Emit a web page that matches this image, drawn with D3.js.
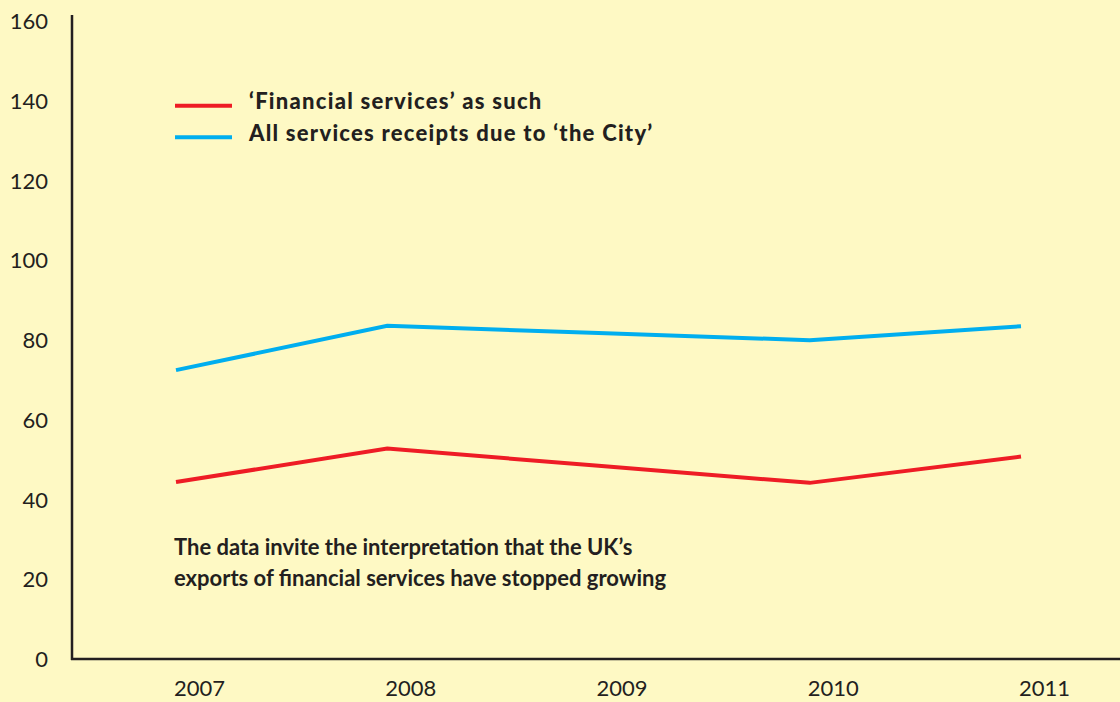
<!DOCTYPE html>
<html>
<head>
<meta charset="utf-8">
<script src="https://cdn.jsdelivr.net/npm/d3@7"></script>
<style>
  html, body { margin: 0; padding: 0; background: #fef9c4; overflow: hidden; }
  svg { display: block; }
</style>
</head>
<body>
<div id="chart"></div>
<script>
const ink  = '#231f20';
const red  = '#ee1c25';
const blue = '#00aeef';
const bg   = '#fef9c4';

const years     = ['2007', '2008', '2009', '2010', '2011'];
const financial = [44.4, 52.8, 48.5, 44.2, 50.8];
const cityAll   = [72.5, 83.6, 81.8, 80.0, 83.5];
const yTicks    = [0, 20, 40, 60, 80, 100, 120, 140, 160];
const seriesNames = ['\u2018Financial services\u2019 as such', 'All services receipts due to \u2018the City\u2019'];
const note = ['The data invite the interpretation that the UK\u2019s',
              'exports of financial services have stopped growing'];

const W = 1120, H = 702;
const svg = d3.select('#chart').append('svg').attr('width', W).attr('height', H);
svg.append('rect').attr('width', W).attr('height', H).attr('fill', bg);

const x = d3.scalePoint().domain(years).range([176, 1021]);
const y = d3.scaleLinear().domain([0, 160]).range([659, 21.4]);

// axes lines
svg.append('line').attr('x1', 72).attr('x2', 72).attr('y1', 15).attr('y2', 660)
  .attr('stroke', ink).attr('stroke-width', 2.5);
svg.append('line').attr('x1', 71).attr('x2', W).attr('y1', 659).attr('y2', 659)
  .attr('stroke', ink).attr('stroke-width', 2.5);

// y labels
svg.selectAll('.ylab').data(yTicks).join('text')
  .attr('class', 'ylab')
  .attr('x', 48).attr('y', d => y(d)).attr('dy', '0.36em')
  .attr('text-anchor', 'end')
  .style('font-family', 'Lato').style('font-size', '22px').style('fill', ink)
  .text(d => d);

// x labels (sit at the very bottom edge, as in the original)
svg.selectAll('.xlab').data(years).join('text')
  .attr('class', 'xlab')
  .attr('x', d => x(d) - 2).attr('y', 696)
  .style('font-family', 'Lato').style('font-size', '22px').style('fill', ink)
  .text(d => d);

const line = d3.line().x((d, i) => x(years[i])).y(d => y(d));

svg.append('path').datum(cityAll).attr('d', line)
  .attr('fill', 'none').attr('stroke', blue).attr('stroke-width', 4);
svg.append('path').datum(financial).attr('d', line)
  .attr('fill', 'none').attr('stroke', red).attr('stroke-width', 4);

// legend
const legend = svg.append('g');
[red, blue].forEach((c, i) => {
  const ly = 105.7 + i * 31.6;
  legend.append('line').attr('x1', 175).attr('x2', 232).attr('y1', ly).attr('y2', ly)
    .attr('stroke', c).attr('stroke-width', 4);
  legend.append('text').attr('x', 249).attr('y', ly + 3.5)
    .style('font-family', 'Lato').style('font-weight', 900).style('font-size', '22px')
    .style('letter-spacing', '1.25px').style('fill', ink)
    .text(seriesNames[i]);
});

// note
svg.selectAll('.note').data(note).join('text')
  .attr('class', 'note')
  .attr('x', 174).attr('y', (d, i) => 555 + i * 31)
  .style('font-family', 'Lato').style('font-weight', 'bold').style('font-size', '22px').style('fill', ink)
  .text(d => d);
</script>
</body>
</html>
